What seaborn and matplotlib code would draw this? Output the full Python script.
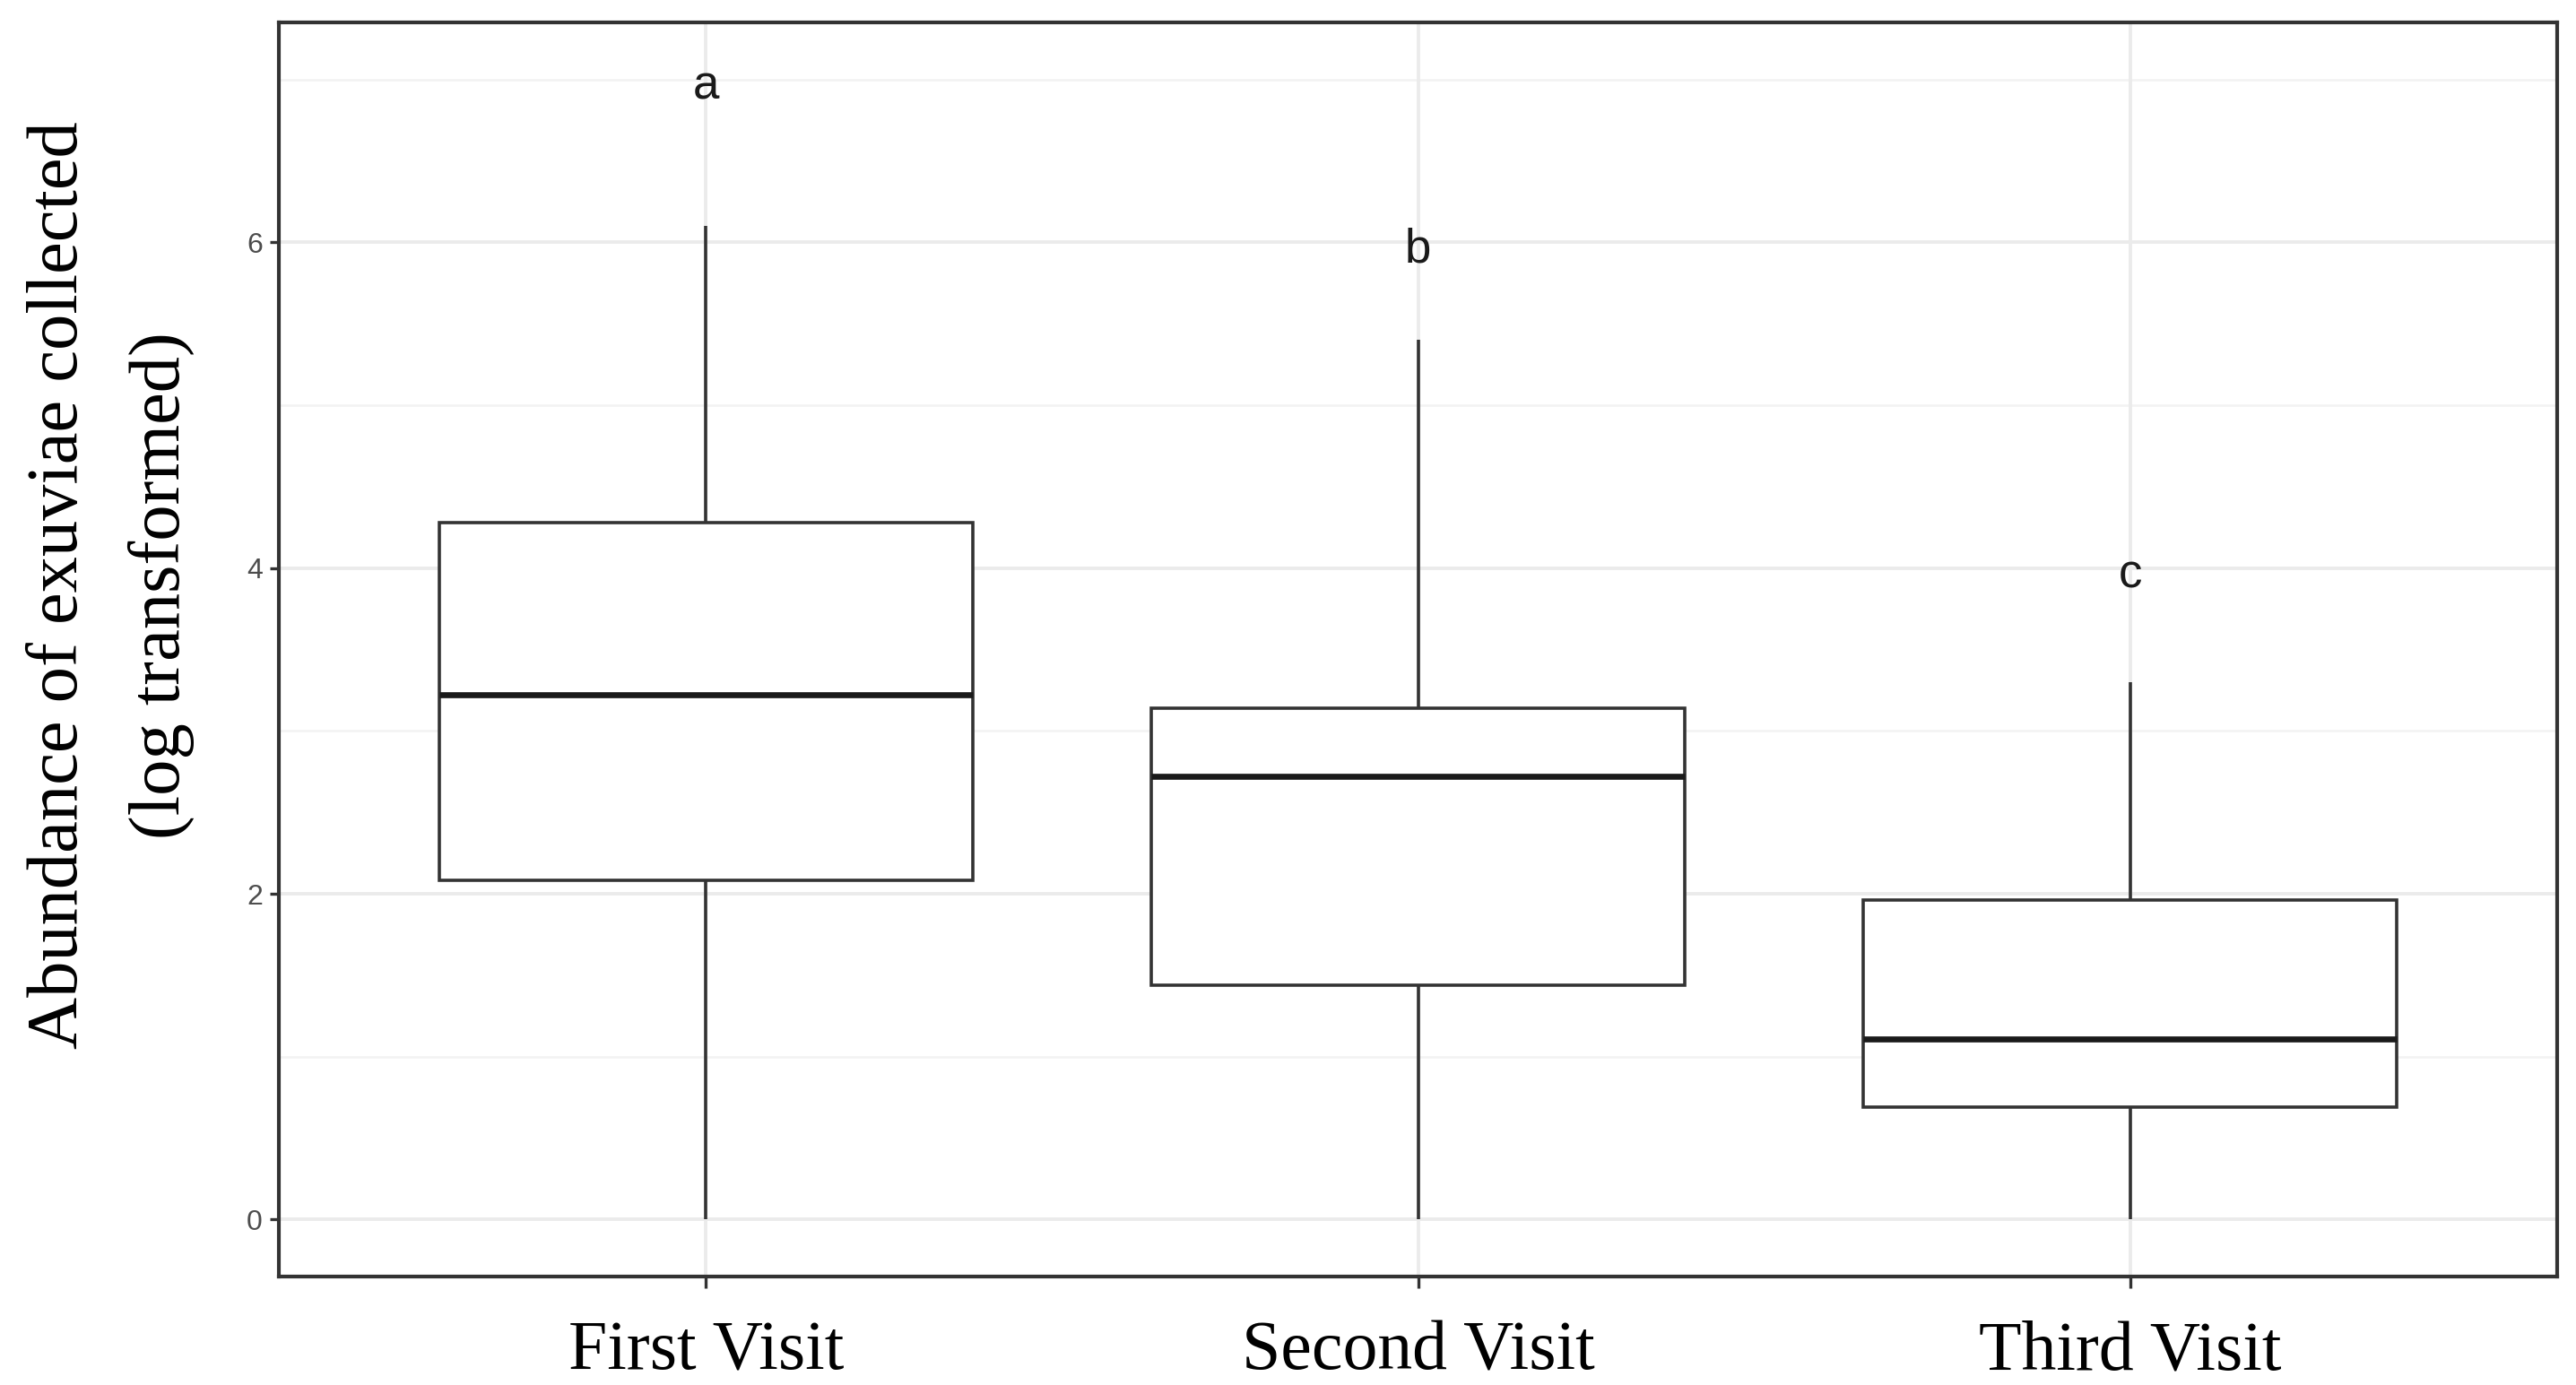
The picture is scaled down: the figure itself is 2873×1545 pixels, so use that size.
import numpy as np
import pandas as pd
import matplotlib
matplotlib.use("Agg")
import matplotlib.pyplot as plt
import matplotlib.transforms as mtransforms
import seaborn as sns

# Data (five-number summaries)
visits = ["First Visit", "Second Visit", "Third Visit"]
first_visit = [0.0, 2.08, 3.22, 4.28, 6.10]
second_visit = [0.0, 1.44, 2.72, 3.14, 5.40]
third_visit = [0.0, 0.69, 1.11, 1.96, 3.30]
letters = ["a", "b", "c"]
letter_y = [7.0, 6.0, 4.0]

df = pd.DataFrame({
    "visit": np.repeat(visits, 5),
    "abundance": first_visit + second_visit + third_visit,
})

sns.set_theme(style="white")
plt.rcParams["font.family"] = ["DejaVu Sans"]

fig = plt.figure(figsize=(14.365, 7.725), dpi=200)
ax = fig.add_axes([311 / 2873, 1 - 1424 / 1545, (2852 - 311) / 2873, (1424 - 25) / 1545])

# grid (ggplot theme_bw style)
for y in [1, 3, 5, 7]:
    ax.axhline(y, color="#F2F2F2", lw=0.9, zorder=0)
for y in [0, 2, 4, 6]:
    ax.axhline(y, color="#EBEBEB", lw=1.4, zorder=0)
for x in range(3):
    ax.axvline(x, color="#EBEBEB", lw=1.4, zorder=0)

sns.boxplot(data=df, x="visit", y="abundance", order=visits, ax=ax,
            color="white", linecolor="#333333", linewidth=1.3, width=0.75,
            whis=np.inf, showcaps=False,
            medianprops=dict(color="#1a1a1a", linewidth=2.4),
            zorder=2)
for p in ax.patches:
    p.set_facecolor("white")

shift = mtransforms.ScaledTranslation(0, -8 / 200, fig.dpi_scale_trans)
for i, (lab, yy) in enumerate(zip(letters, letter_y)):
    ax.text(i, yy, lab, ha="center", va="center", fontsize=19,
            color="#1a1a1a", transform=ax.transData + shift,
            family=["Liberation Sans Narrow", "Liberation Sans", "DejaVu Sans"])

ax.set_xlim(-0.6, 2.6)
ax.set_ylim(-0.35, 7.35)
ax.set_yticks([0, 2, 4, 6])
ax.set_yticklabels(["0", "2", "4", "6"])

for s in ax.spines.values():
    s.set_visible(True)
    s.set_color("#333333")
    s.set_linewidth(1.5)

ax.tick_params(axis="y", length=3.5, width=1.2, color="#333333", pad=3,
               labelsize=11.5, labelcolor="#4D4D4D", left=True)
ax.tick_params(axis="x", length=4.5, width=1.2, color="#333333", pad=13,
               labelsize=28, bottom=True)
for t in ax.get_xticklabels():
    t.set_family(["Liberation Serif", "DejaVu Serif"])
    t.set_color("black")
for t in ax.get_yticklabels():
    t.set_family(["Liberation Sans Narrow", "Liberation Sans", "DejaVu Sans"])

ax.set_xlabel("")
ax.set_ylabel("Abundance of exuviae collected\n(log transformed)",
              fontsize=29, family=["Liberation Serif", "DejaVu Serif"],
              color="black", linespacing=1.69)
ax.yaxis.label.set_va("center")
ax.yaxis.set_label_coords((67.5 - 170) / 1387, (777 - 356) / (777 - 13))

fig.savefig("out.png", dpi=200, facecolor="white")
